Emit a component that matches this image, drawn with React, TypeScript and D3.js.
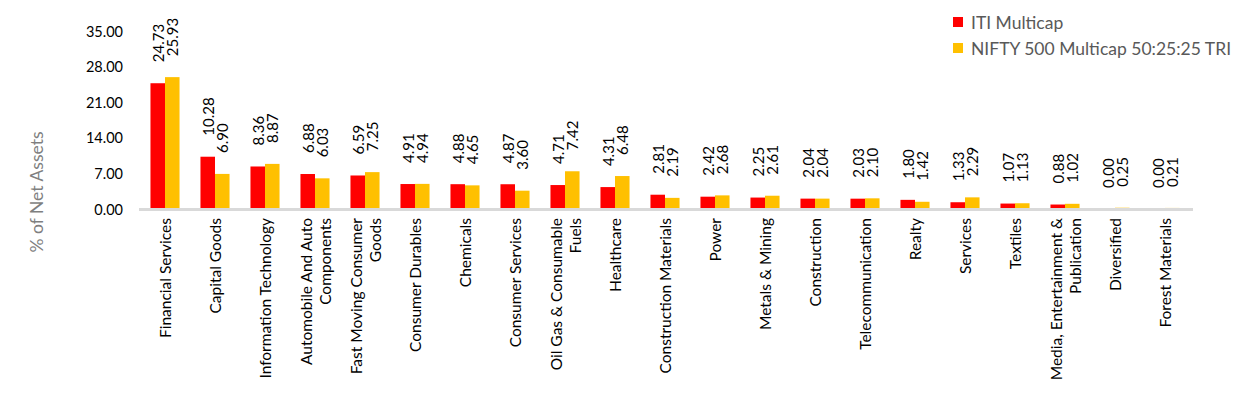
import { useEffect, useRef } from "react";
import * as d3 from "d3";

const categories = [
  "Financial Services",
  "Capital Goods",
  "Information Technology",
  "Automobile And Auto\nComponents",
  "Fast Moving Consumer\nGoods",
  "Consumer Durables",
  "Chemicals",
  "Consumer Services",
  "Oil Gas & Consumable\nFuels",
  "Healthcare",
  "Construction Materials",
  "Power",
  "Metals & Mining",
  "Construction",
  "Telecommunication",
  "Realty",
  "Services",
  "Textiles",
  "Media, Entertainment &\nPublication",
  "Diversified",
  "Forest Materials",
];

const itiMulticap = [
  24.73, 10.28, 8.36, 6.88, 6.59, 4.91, 4.88, 4.87, 4.71, 4.31, 2.81, 2.42,
  2.25, 2.04, 2.03, 1.8, 1.33, 1.07, 0.88, 0.0, 0.0,
];
const niftyMulticap = [
  25.93, 6.9, 8.87, 6.03, 7.25, 4.94, 4.65, 3.6, 7.42, 6.48, 2.19, 2.68, 2.61,
  2.04, 2.1, 1.42, 2.29, 1.13, 1.02, 0.25, 0.21,
];
const seriesNames = ["ITI Multicap", "NIFTY 500 Multicap 50:25:25 TRI"];
const seriesColors = ["#FF0000", "#FFC000"];
const yTicks = [0, 7, 14, 21, 28, 35];

const FONT = "Lato, 'Open Sans', sans-serif";

export default function App() {
  const svgRef = useRef<SVGSVGElement>(null);

  useEffect(() => {
    document.body.style.margin = "0";
    if (!svgRef.current) return;

    const width = 1254;
    const height = 404;

    const svg = d3.select(svgRef.current);
    svg.selectAll("*").remove();
    svg.attr("width", width).attr("height", height).style("font-family", FONT);

    // Scales
    const x = d3.scaleBand<string>().domain(categories).range([140, 1190]);
    const x1 = d3
      .scaleBand<number>()
      .domain([0, 1])
      .range([0, x.bandwidth()])
      .paddingOuter(0.72);
    const y = d3.scaleLinear().domain([0, 35]).range([209, 31]);

    // Y tick labels (no gridlines)
    svg
      .append("g")
      .selectAll("text")
      .data(yTicks)
      .enter()
      .append("text")
      .attr("x", 123)
      .attr("y", (d) => y(d))
      .attr("text-anchor", "end")
      .attr("dominant-baseline", "central")
      .attr("font-size", 14.5)
      .attr("fill", "#000")
      .text((d) => d.toFixed(2));

    // Y axis title
    svg
      .append("text")
      .attr("transform", `translate(36,192) rotate(-90)`)
      .attr("text-anchor", "middle")
      .attr("dominant-baseline", "central")
      .attr("font-size", 17.5)
      .attr("fill", "#7f7f7f")
      .text("% of Net Assets");

    // Bars
    const series = [itiMulticap, niftyMulticap];
    const rows = categories.flatMap((c, i) =>
      series.map((s, k) => ({ cat: c, k, v: s[i] })),
    );

    svg
      .append("g")
      .selectAll("rect")
      .data(rows)
      .enter()
      .append("rect")
      .attr("x", (d) => (x(d.cat) ?? 0) + (x1(d.k) ?? 0))
      .attr("width", x1.bandwidth())
      .attr("y", (d) => y(d.v))
      .attr("height", (d) => y(0) - y(d.v))
      .attr("fill", (d) => seriesColors[d.k]);

    // Data labels
    svg
      .append("g")
      .selectAll("text")
      .data(rows)
      .enter()
      .append("text")
      .attr("transform", (d) => {
        const cx = (x(d.cat) ?? 0) + (x1(d.k) ?? 0) + x1.bandwidth() / 2;
        return `translate(${cx},${y(d.v) - 21}) rotate(-90)`;
      })
      .attr("text-anchor", "start")
      .attr("dominant-baseline", "central")
      .attr("font-size", 15)
      .attr("fill", "#000")
      .text((d) => d.v.toFixed(2));

    // Axis line
    svg
      .append("line")
      .attr("x1", 139)
      .attr("x2", 1193)
      .attr("y1", y(0) + 0.5)
      .attr("y2", y(0) + 0.5)
      .attr("stroke", "#d9d9d9")
      .attr("stroke-width", 3);

    // Category labels
    const lineH = 19;
    const cats = svg
      .append("g")
      .selectAll("text")
      .data(categories)
      .enter()
      .append("text")
      .attr(
        "transform",
        (d) => `translate(${(x(d) ?? 0) + x.bandwidth() / 2},218) rotate(-90)`,
      )
      .attr("text-anchor", "end")
      .attr("dominant-baseline", "central")
      .attr("font-size", 15.5)
      .attr("fill", "#000");

    cats.each(function (d) {
      const lines = d.split("\n");
      const t = d3.select(this);
      lines.forEach((ln, i) => {
        t.append("tspan")
          .attr("x", 0)
          .attr("y", (i - (lines.length - 1) / 2) * lineH)
          .text(ln);
      });
    });

    // Legend
    const legend = svg.append("g");
    seriesNames.forEach((name, i) => {
      legend
        .append("rect")
        .attr("x", 953)
        .attr("y", 17 + i * 26)
        .attr("width", 10)
        .attr("height", 10)
        .attr("fill", seriesColors[i]);
      legend
        .append("text")
        .attr("x", 971)
        .attr("y", 22 + i * 26)
        .attr("dominant-baseline", "central")
        .attr("font-size", 17.5)
        .attr("fill", "#595959")
        .text(name);
    });
  }, []);

  return <svg ref={svgRef} style={{ display: "block" }} />;
}
